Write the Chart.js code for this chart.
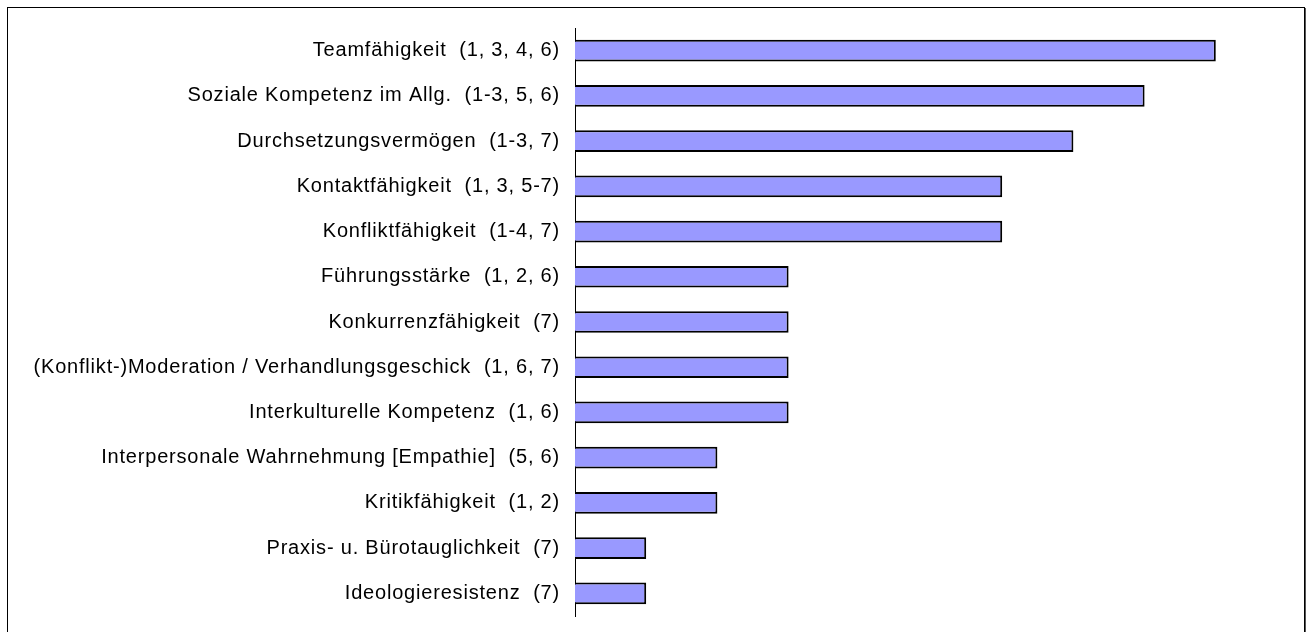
<!DOCTYPE html>
<html><head><meta charset="utf-8">
<script src="https://cdn.jsdelivr.net/npm/chart.js@4"></script>
<style>
html,body{margin:0;padding:0;background:#fff;}
#wrap{position:absolute;left:0;top:0;width:1308px;height:632px;overflow:hidden;}
#frame{position:absolute;left:7px;top:7px;width:1298px;height:640px;border:1px solid #000;box-sizing:border-box;box-shadow:1px 1px 0 #555;}
canvas{position:absolute;left:0;top:0;}
</style></head>
<body><div id="wrap"><div id="frame"></div><canvas id="c" width="1308" height="632"></canvas></div>
<script>
const categories = [
  "Teamfähigkeit  (1, 3, 4, 6)",
  "Soziale Kompetenz im Allg.  (1-3, 5, 6)",
  "Durchsetzungsvermögen  (1-3, 7)",
  "Kontaktfähigkeit  (1, 3, 5-7)",
  "Konfliktfähigkeit  (1-4, 7)",
  "Führungsstärke  (1, 2, 6)",
  "Konkurrenzfähigkeit  (7)",
  "(Konflikt-)Moderation / Verhandlungsgeschick  (1, 6, 7)",
  "Interkulturelle Kompetenz  (1, 6)",
  "Interpersonale Wahrnehmung [Empathie]  (5, 6)",
  "Kritikfähigkeit  (1, 2)",
  "Praxis- u. Bürotauglichkeit  (7)",
  "Ideologieresistenz  (7)"
];
const values = [9, 8, 7, 6, 6, 3, 3, 3, 3, 2, 2, 1, 1];
const xMax = 10;

const spacing = {
  id: 'spacing',
  beforeDraw(chart) { chart.ctx.letterSpacing = '0.8px'; }
};

new Chart(document.getElementById('c'), {
  type: 'bar',
  data: {
    labels: categories,
    datasets: [{
      data: values,
      backgroundColor: '#9999FF',
      borderColor: '#000000',
      borderWidth: 2,
      barPercentage: 0.48,
      categoryPercentage: 1.0
    }]
  },
  plugins: [spacing],
  options: {
    indexAxis: 'y',
    responsive: false,
    animation: false,
    devicePixelRatio: 1,
    layout: { padding: { top: 28, bottom: 16, left: 0, right: 21 } },
    plugins: { legend: { display: false }, tooltip: { enabled: false } },
    scales: {
      x: { display: false, min: 0, max: xMax },
      y: {
        grid: { display: false, drawTicks: false },
        border: { display: true, color: '#000', width: 1 },
        ticks: { color: '#000', padding: 15, font: { family: "'Liberation Sans', Arial, sans-serif", size: 20 } },
        afterFit: (s) => { s.width = 575; s.paddingTop = 0; s.paddingBottom = 0; }
      }
    }
  }
});
</script></body></html>
